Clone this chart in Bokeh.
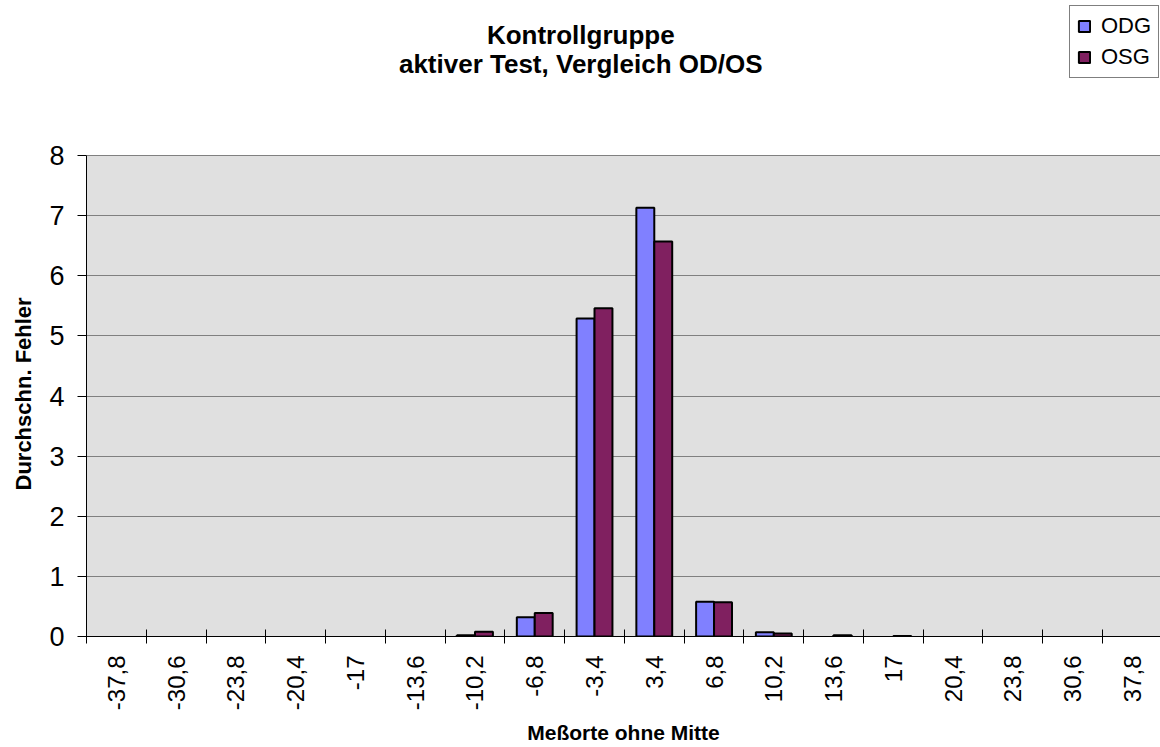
import numpy as np
from bokeh.plotting import figure
from bokeh.models import Range1d, FixedTicker, Label, Legend, LegendItem, Title, ColumnDataSource
from bokeh.embed import file_html
from bokeh.resources import INLINE

# ---- data ----
categories = ["-37,8", "-30,6", "-23,8", "-20,4", "-17", "-13,6", "-10,2", "-6,8", "-3,4",
              "3,4", "6,8", "10,2", "13,6", "17", "20,4", "23,8", "30,6", "37,8"]
odg = [0, 0, 0, 0, 0, 0, 0.02, 0.32, 5.29, 7.13, 0.58, 0.07, 0, 0, 0, 0, 0, 0]
osg = [0, 0, 0, 0, 0, 0, 0.08, 0.39, 5.46, 6.57, 0.57, 0.05, 0.02, 0.01, 0, 0, 0, 0]
y_ticks = [0, 1, 2, 3, 4, 5, 6, 7, 8]
series_names = ["ODG", "OSG"]
title_lines = ["Kontrollgruppe", "aktiver Test, Vergleich OD/OS"]
x_title = "Meßorte ohne Mitte"
y_title = "Durchschn. Fehler"

FONT = "Liberation Sans"
C_ODG = "#8080FF"
C_OSG = "#802060"

n = len(categories)
centers = np.arange(n) + 0.5
bw = 0.3
y_max = y_ticks[-1]
x_end = 17.97
y_end = 10.578  # frame extends above the plot area to host titles and legend

p = figure(width=1160, height=747, output_backend="svg", toolbar_location=None,
           x_range=Range1d(0, x_end), y_range=Range1d(0, y_end),
           min_border_left=86, min_border_right=0, min_border_top=0, min_border_bottom=111)
p.background_fill_color = "white"
p.border_fill_color = "white"
p.outline_line_color = None

# grey plot area
bg = p.quad(left=[0], right=[x_end], bottom=[0], top=[y_max],
            fill_color="#E0E0E0", line_color=None)
bg.level = "image"

p.xgrid.visible = False
p.ygrid.ticker = FixedTicker(ticks=y_ticks)
p.ygrid.grid_line_color = "#808080"
p.ygrid.grid_line_width = 1

def src(vals, offset):
    return ColumnDataSource(dict(
        x=(centers + offset).tolist(), top=vals,
        lc=["black" if v > 0 else None for v in vals]))

r1 = p.vbar(x="x", top="top", width=bw, bottom=0, source=src(odg, -bw / 2),
            fill_color=C_ODG, line_color="lc", line_width=2)
r2 = p.vbar(x="x", top="top", width=bw, bottom=0, source=src(osg, bw / 2),
            fill_color=C_OSG, line_color="lc", line_width=2)

# y axis
ya = p.yaxis[0]
ya.ticker = FixedTicker(ticks=y_ticks)
ya.bounds = (0, y_max)
ya.major_tick_in = 0
ya.major_tick_out = 9
ya.minor_tick_line_color = None
ya.axis_line_color = "black"
ya.major_tick_line_color = "black"
ya.major_label_text_font = FONT
ya.major_label_text_font_size = "27px"
ya.major_label_text_color = "black"
ya.major_label_standoff = 13

p.add_layout(Title(text=y_title, align="left", offset=146, standoff=19,
                   vertical_align="middle", text_font=FONT, text_font_size="22px",
                   text_font_style="bold", text_color="black"), "left")

# x axis
xa = p.xaxis[0]
xa.ticker = FixedTicker(ticks=centers.tolist(), minor_ticks=list(range(n + 1)))
xa.major_label_overrides = {float(c): lab for c, lab in zip(centers, categories)}
xa.major_tick_in = 0
xa.major_tick_out = 0
xa.major_tick_line_color = None
xa.minor_tick_in = 7
xa.minor_tick_out = 7
xa.minor_tick_line_color = "black"
xa.axis_line_color = "black"
xa.major_label_orientation = np.pi / 2
xa.major_label_text_font = FONT
xa.major_label_text_font_size = "24px"
xa.major_label_text_color = "black"
xa.major_label_standoff = 12
xa.axis_label = x_title
xa.axis_label_text_font = FONT
xa.axis_label_text_font_size = "21px"
xa.axis_label_text_font_style = "bold"
xa.axis_label_text_color = "black"
xa.axis_label_standoff = 8

# title (inside the extended frame, above the grey plot area)
for txt, yy in zip(title_lines, [9.996, 9.53]):
    p.add_layout(Label(x=8.27, y=yy, text=txt, text_align="center", text_baseline="middle",
                       text_font=FONT, text_font_size="26px", text_font_style="bold",
                       text_color="black"))

leg_idx = int(np.argmax(odg))
legend = Legend(items=[LegendItem(label=series_names[0], renderers=[r1], index=leg_idx),
                       LegendItem(label=series_names[1], renderers=[r2], index=leg_idx)],
                location=(983, 558), orientation="vertical",
                padding=7, spacing=5, margin=0,
                glyph_width=14, glyph_height=14, label_height=22, label_standoff=10,
                label_text_font=FONT, label_text_font_size="22px", label_text_color="black",
                border_line_color="black", border_line_width=1,
                background_fill_color="white", background_fill_alpha=1)
p.add_layout(legend)

open("out.html", "w").write(file_html(p, INLINE))
